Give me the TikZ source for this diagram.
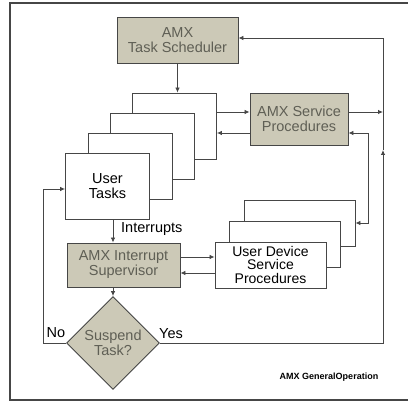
\documentclass[tikz,border=0pt]{standalone}
\usepackage{fontspec}
\setsansfont{Liberation Sans}
\usetikzlibrary{positioning,arrows.meta,shapes.geometric,calc}
\definecolor{amxgray}{RGB}{204,201,183}
\definecolor{amxtext}{RGB}{95,95,85}
\definecolor{amxline}{RGB}{70,70,70}

\begin{document}
\begin{tikzpicture}[
    x=1pt, y=-1pt,
    font=\sffamily\fontsize{14.5}{15}\selectfont,
    box/.style={draw=amxline, line width=0.9pt, align=center, inner sep=0pt},
    sysbox/.style={box, fill=amxgray, text=amxtext},
    task/.style={box, fill=white, minimum width=84pt, minimum height=66pt},
    dev/.style={box, fill=white, minimum width=111pt, minimum height=46pt,
                font=\sffamily\fontsize{14}{13.5}\selectfont},
    decide/.style={diamond, draw=amxline, line width=0.9pt, fill=amxgray, text=amxtext,
                   aspect=1, inner sep=0pt, minimum size=93pt, align=center},
    lbl/.style={inner sep=0pt},
    arr/.style={-{Latex[length=5pt,width=4.5pt]}, draw=amxline, line width=0.8pt},
    arrboth/.style={{Latex[length=5pt,width=4.5pt]}-{Latex[length=5pt,width=4.5pt]},
                    draw=amxline, line width=0.8pt},
  ]
  \useasboundingbox (0,0) rectangle (408,403);

  % ===== frame =====
  \draw[amxline, line width=2pt] (408,3) -- (10,3) -- (10,400) -- (408,400);

  % ===== system boxes =====
  \node[sysbox, minimum width=121pt, minimum height=46pt] (sched) at (177.5,40) {AMX\\Task Scheduler};
  \node[sysbox, minimum width=98pt, minimum height=52pt] (svc) at (299,119) {AMX Service\\Procedures};
  \node[sysbox, minimum width=113pt, minimum height=44pt] (sup) at (123.5,265) {AMX Interrupt\\Supervisor};
  \node[decide] (sus) at (113,343) {Suspend\\Task?};

  % ===== user task stack (back to front) =====
  \node[task] (u1) at (174.5,126) {};
  \node[task] (u2) at ($(u1)+(-22,20)$) {};
  \node[task] (u3) at ($(u2)+(-22.5,20)$) {};
  \node[task] (u4) at ($(u3)+(-22.5,20)$) {User\\Tasks};

  % ===== device procedure stack =====
  \node[dev] (d1) at (299.5,223) {};
  \node[dev] (d2) at ($(d1)+(-14.5,21)$) {};
  \node[dev] (d3) at ($(d2)+(-14.5,21)$) {User Device\\Service\\Procedures};

  % ===== labels =====
  \node[lbl, anchor=west] (intr) at (121,229) {Interrupts};
  \node[lbl] (no) at (56,333) {No};
  \node[lbl] (yes) at (171,334) {Yes};
  \node[font=\sffamily\bfseries\fontsize{9}{10}\selectfont] (cap) at (329,377) {AMX GeneralOperation};

  % ===== routing points =====
  \coordinate (rail) at (383,38);
  \coordinate (railUp) at (383,150);
  \coordinate (railLow) at (383,343);
  \coordinate (ret) at (368,133);
  \coordinate (noC) at (43,189);
  \coordinate (callY) at (233,112);
  \coordinate (backY) at (233,133);
  \coordinate (irqOut) at (197,257);
  \coordinate (irqIn) at (197,273);

  % ===== arrows =====
  \draw[arr] (sched.south) -- (sched.south |- u1.north);
  \draw[arr] (u1.east |- callY) -- (svc.west |- callY);
  \draw[arr] (svc.west |- backY) -- (u1.east |- backY);
  \draw[arr] (svc.east |- callY) -- (rail |- callY);
  \draw[arrboth] (d1.east) -| (ret) -- (svc.east |- ret);
  \draw[arr] (u4.south -| sus.north) -- (sup.north -| sus.north);
  \draw[arr] (sup.south -| sus.north) -- (sus.north);
  \draw[arr] (sup.east |- irqOut) -- (d3.west |- irqOut);
  \draw[arr] (d3.west |- irqIn) -- (sup.east |- irqIn);
  \draw[arr] (sus.west) -| (noC) -- (u4.west |- noC);
  \draw[arr] (sus.east) -- (railLow) -- (railUp);
  \draw[arr] (railUp) -- (rail) -- (sched.east |- rail);

\end{tikzpicture}
\end{document}
